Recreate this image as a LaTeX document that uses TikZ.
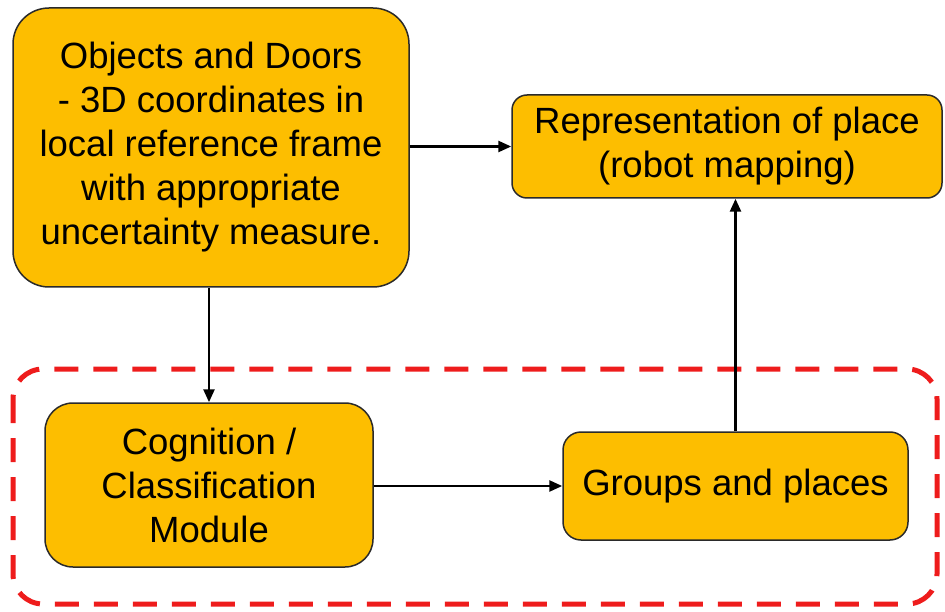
\documentclass[tikz,border=0pt]{standalone}
\usepackage{fontspec}
\setmainfont{Liberation Sans}
\usetikzlibrary{arrows.meta}
\definecolor{boxfill}{HTML}{FDBE00}
\definecolor{boxline}{HTML}{2A2A2A}
\definecolor{groupred}{HTML}{EE1C1C}
\begin{document}
\begin{tikzpicture}[x=1pt,y=-1pt,
  block/.style={draw=boxline, line width=1.5pt, fill=boxfill, rectangle,
    align=center, inner sep=0pt, text=black,
    font=\fontsize{36.5}{44}\selectfont},
  link/.style={line width=2.6pt, draw=black,
    -{Triangle[length=13pt,width=11pt]}},
  groupframe/.style={draw=groupred, line width=5pt,
    dash pattern=on 24pt off 15pt, rounded corners=30pt}]
  \useasboundingbox (0,0) rectangle (945,612);

  % grouping frame around the cognition part
  \draw[groupframe] (13,369) rectangle (937,604);

  \node[block, minimum width=396pt, minimum height=279pt, rounded corners=36pt]
    (obj) at (211,147.5)
    {Objects and Doors\\- 3D coordinates in\\local reference frame\\with appropriate\\uncertainty measure.};
  \node[block, minimum width=430pt, minimum height=103pt, rounded corners=15pt]
    (rep) at (727,146.5)
    {Representation of place\\(robot mapping)};
  \node[block, minimum width=328pt, minimum height=164pt, rounded corners=28pt]
    (cog) at (209,485)
    {Cognition /\\Classification\\Module};
  \node[block, minimum width=345pt, minimum height=108pt, rounded corners=18pt]
    (grp) at (735.5,486)
    {Groups and places};

  \draw[link] (obj.east |- rep.west) -- (rep.west);
  \draw[link] (obj.south -| cog.north) -- (cog.north);
  \draw[link] (cog.east |- grp.west) -- (grp.west);
  \draw[link] (grp.north) -- (grp.north |- rep.south);
\end{tikzpicture}
\end{document}
